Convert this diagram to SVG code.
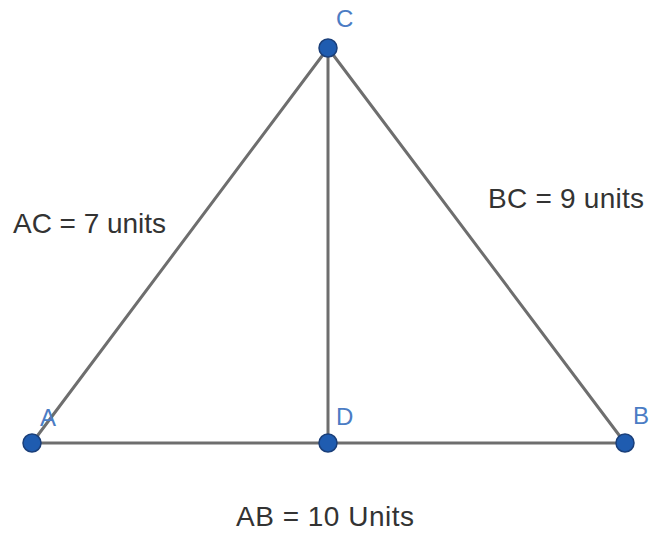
<svg xmlns="http://www.w3.org/2000/svg" width="651" height="533" viewBox="0 0 651 533">
<style>
.seg{stroke:#6e6e6e;stroke-width:3;fill:none;stroke-linecap:round}
.pt{fill:#1f5cb0;stroke:#1a3f7a;stroke-width:1.5}
.lbl{font-family:"Liberation Sans",Arial,sans-serif;font-size:24px;fill:#4b7cc4}
.txt{font-family:"Liberation Sans",Arial,sans-serif;font-size:28px;fill:#333}
</style>
<rect width="651" height="533" fill="#fff"/>
<g id="connectors">
<line class="seg" x1="32" y1="443" x2="328" y2="48"/>
<line class="seg" x1="625" y1="443" x2="328" y2="48"/>
<line class="seg" x1="328" y1="48" x2="328" y2="443"/>
<line class="seg" x1="32" y1="443" x2="625" y2="443"/>
</g>
<g id="C"><circle class="pt" cx="328" cy="48" r="9"/><text class="lbl" x="336" y="27">C</text></g>
<g id="A"><circle class="pt" cx="32" cy="443" r="9"/><text class="lbl" x="40" y="426">A</text></g>
<g id="D"><circle class="pt" cx="328" cy="443" r="9"/><text class="lbl" x="336" y="425">D</text></g>
<g id="B"><circle class="pt" cx="625" cy="443" r="9"/><text class="lbl" x="633" y="424">B</text></g>
<g id="labels">
<text class="txt" x="13" y="233" textLength="153">AC = 7 units</text>
<text class="txt" x="488" y="208" textLength="156">BC = 9 units</text>
<text class="txt" x="236" y="526" textLength="178">AB = 10 Units</text>
</g>
</svg>
